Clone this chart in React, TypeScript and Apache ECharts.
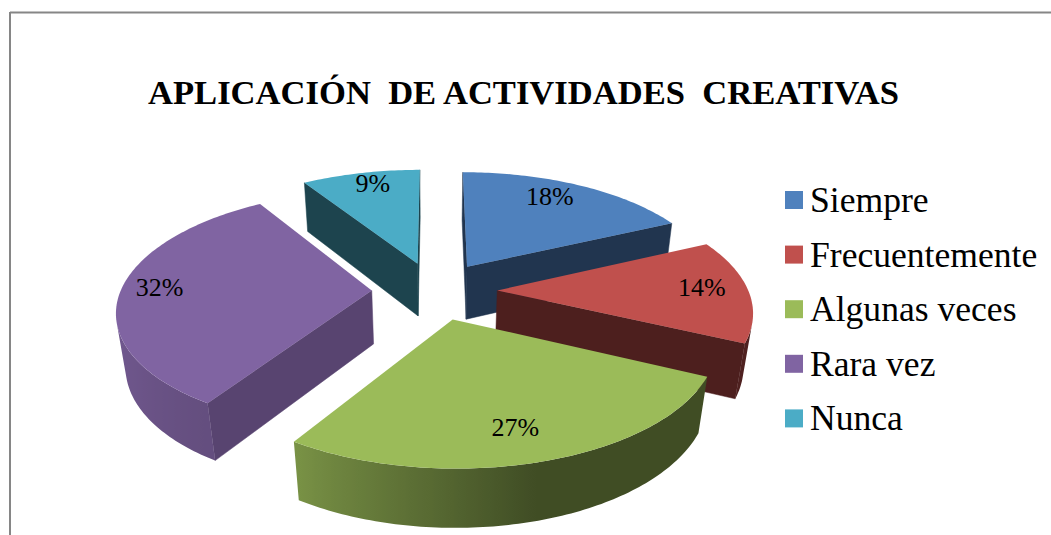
import React, { useEffect, useRef } from "react";
import * as echarts from "echarts";

const titleText = "APLICACIÓN  DE ACTIVIDADES  CREATIVAS";
const categories = ["Siempre", "Frecuentemente", "Algunas veces", "Rara vez", "Nunca"];
const values = [18, 14, 27, 32, 9];
const topColors = ["#4F81BD", "#C0504D", "#9BBB59", "#8064A2", "#4BACC6"];
const wallColors = ["#21354F", "#4D1F1E", "#3F4A21", "#584470", "#1D444E"];
const paintOrder = [4, 0, 3, 1, 2];
const labelRadius = [0.82, 0.82, 0.785, 0.85, 0.86];
const labelAngleShare = [0.44, 0.46, 0.513, 0.515, 0.55];

// projection of the pie model
const CX = 434.5, CY = 290.5, R = 251, RT = 116, K = 0.155, M = 0.03, DEPTH = 55, EXPLODE = 0.25;

const project = (u: number, v: number, h: number): [number, number] => {
  const s = 1 / (1 + K * v + M * h);
  return [CX + R * u * s, CY - RT * v * s + DEPTH * h * s];
};

const total = values.reduce((a, b) => a + b, 0);
const starts: number[] = [];
values.reduce((acc, v, i) => { starts[i] = acc; return acc + v; }, 0);
const deg = (i: number) => (starts[i] / total) * 360;
const degEnd = (i: number) => ((starts[i] + values[i]) / total) * 360;

const shadeStops: [number, number][] = [[0, 0.41], [165, 0.41], [212, 0.78], [270, 0.93], [360, 0.93]];
const shadeAt = (a: number) => {
  for (let i = 1; i < shadeStops.length; i++) {
    if (a <= shadeStops[i][0]) {
      const [a0, f0] = shadeStops[i - 1];
      const [a1, f1] = shadeStops[i];
      return f0 + ((f1 - f0) * (a - a0)) / (a1 - a0);
    }
  }
  return 1;
};
const scaleColor = (hex: string, f: number) => {
  const n = parseInt(hex.slice(1), 16);
  const c = [(n >> 16) & 255, (n >> 8) & 255, n & 255].map((x) => Math.round(x * f));
  return `rgb(${c[0]},${c[1]},${c[2]})`;
};
const isFront = (p: [number, number][]) => {
  let a = 0;
  for (let i = 0; i < p.length; i++) {
    const q = p[(i + 1) % p.length];
    a += p[i][0] * q[1] - q[0] * p[i][1];
  }
  return a < 0;
};

const sliceChildren = (i: number) => {
  const a0 = deg(i), a1 = degEnd(i);
  const mid = ((a0 + a1) / 2) * (Math.PI / 180);
  const ou = EXPLODE * Math.sin(mid), ov = EXPLODE * Math.cos(mid);
  const rim = (aDeg: number, h: number) => {
    const a = (aDeg * Math.PI) / 180;
    return project(ou + Math.sin(a), ov + Math.cos(a), h);
  };
  const tip = (h: number) => project(ou, ov, h);
  const children: any[] = [];
  const quad = (pts: [number, number][], fill: string) => {
    if (isFront(pts)) {
      children.push({
        type: "polygon",
        shape: { points: pts },
        style: { fill, stroke: fill, lineWidth: 0.5 },
      });
    }
  };
  quad([tip(0), rim(a0, 0), rim(a0, 1), tip(1)], wallColors[i]);
  quad([rim(a1, 0), tip(0), tip(1), rim(a1, 1)], wallColors[i]);

  // outer wall: one polygon over the facing part of the rim, shaded along x
  const n = Math.max(1, Math.ceil(a1 - a0));
  const facing: number[] = [];
  for (let j = 0; j <= n; j++) facing.push(a0 + ((a1 - a0) * j) / n);
  const visible = facing.filter((b, j) => {
    const nb = facing[Math.min(j + 1, n)];
    const pb = facing[Math.max(j - 1, 0)];
    return isFront([rim(pb, 0), rim(nb, 0), rim(nb, 1), rim(pb, 1)]);
  });
  if (visible.length > 1) {
    const topRim = visible.map((b) => rim(b, 0));
    const botRim = visible.map((b) => rim(b, 1)).reverse();
    const pts = [...topRim, ...botRim];
    const xs = pts.map((p) => p[0]);
    const minX = Math.min(...xs), maxX = Math.max(...xs);
    const stops = visible
      .map((b) => ({
        offset: Math.min(1, Math.max(0, (rim(b, 0)[0] - minX) / (maxX - minX))),
        color: scaleColor(topColors[i], shadeAt(b)),
      }))
      .sort((p, q) => p.offset - q.offset);
    children.push({
      type: "polygon",
      shape: { points: pts },
      style: { fill: new echarts.graphic.LinearGradient(0, 0, 1, 0, stops) },
    });
  }

  const top: [number, number][] = [tip(0)];
  const nTop = Math.ceil(a1 - a0);
  for (let j = 0; j <= nTop; j++) top.push(rim(a0 + ((a1 - a0) * j) / nTop, 0));
  children.push({ type: "polygon", shape: { points: top }, style: { fill: topColors[i] } });

  const la = ((a0 + (a1 - a0) * labelAngleShare[i]) * Math.PI) / 180;
  const lp = project(ou + labelRadius[i] * Math.sin(la), ov + labelRadius[i] * Math.cos(la), 0);
  children.push({
    type: "text",
    z2: 10,
    x: lp[0],
    y: lp[1],
    style: {
      text: `${values[i]}%`,
      fill: "#000",
      font: '26px "Liberation Serif"',
      align: "center",
      verticalAlign: "middle",
    },
  });
  return children;
};

export default function App() {
  const ref = useRef<HTMLDivElement>(null);
  useEffect(() => {
    const chart = echarts.init(ref.current!, null, { renderer: "svg" });
    chart.setOption({
      animation: false,
      backgroundColor: "#fff",
      title: {
        text: titleText,
        left: 148,
        top: 74,
        padding: 0,
        textStyle: { fontFamily: "Liberation Serif", fontWeight: "bold", fontSize: 34.6, color: "#000" },
      },
      legend: {
        orient: "vertical",
        left: 785,
        top: 182,
        padding: 0,
        itemWidth: 18,
        itemHeight: 18,
        itemGap: 18.6,
        icon: "rect",
        data: categories,
        textStyle: {
          fontFamily: "Liberation Serif",
          fontSize: 35.6,
          lineHeight: 35.6,
          color: "#000",
          padding: [0, 0, 0, 2],
        },
      },
      graphic: [
        { type: "line", shape: { x1: 10, y1: 12.5, x2: 1051, y2: 12.5 }, style: { stroke: "#868686", lineWidth: 2 } },
        { type: "line", shape: { x1: 10, y1: 12, x2: 10, y2: 535 }, style: { stroke: "#868686", lineWidth: 2 } },
      ],
      series: paintOrder.map((i, order) => ({
        type: "custom",
        name: categories[i],
        coordinateSystem: "none",
        z: 2 + order,
        silent: true,
        itemStyle: { color: topColors[i] },
        data: [values[i]],
        renderItem: () => ({ type: "group", children: sliceChildren(i) }),
      })),
    });
    return () => chart.dispose();
  }, []);
  return <div ref={ref} style={{ position: "absolute", left: 0, top: 0, width: 1051, height: 535 }} />;
}
